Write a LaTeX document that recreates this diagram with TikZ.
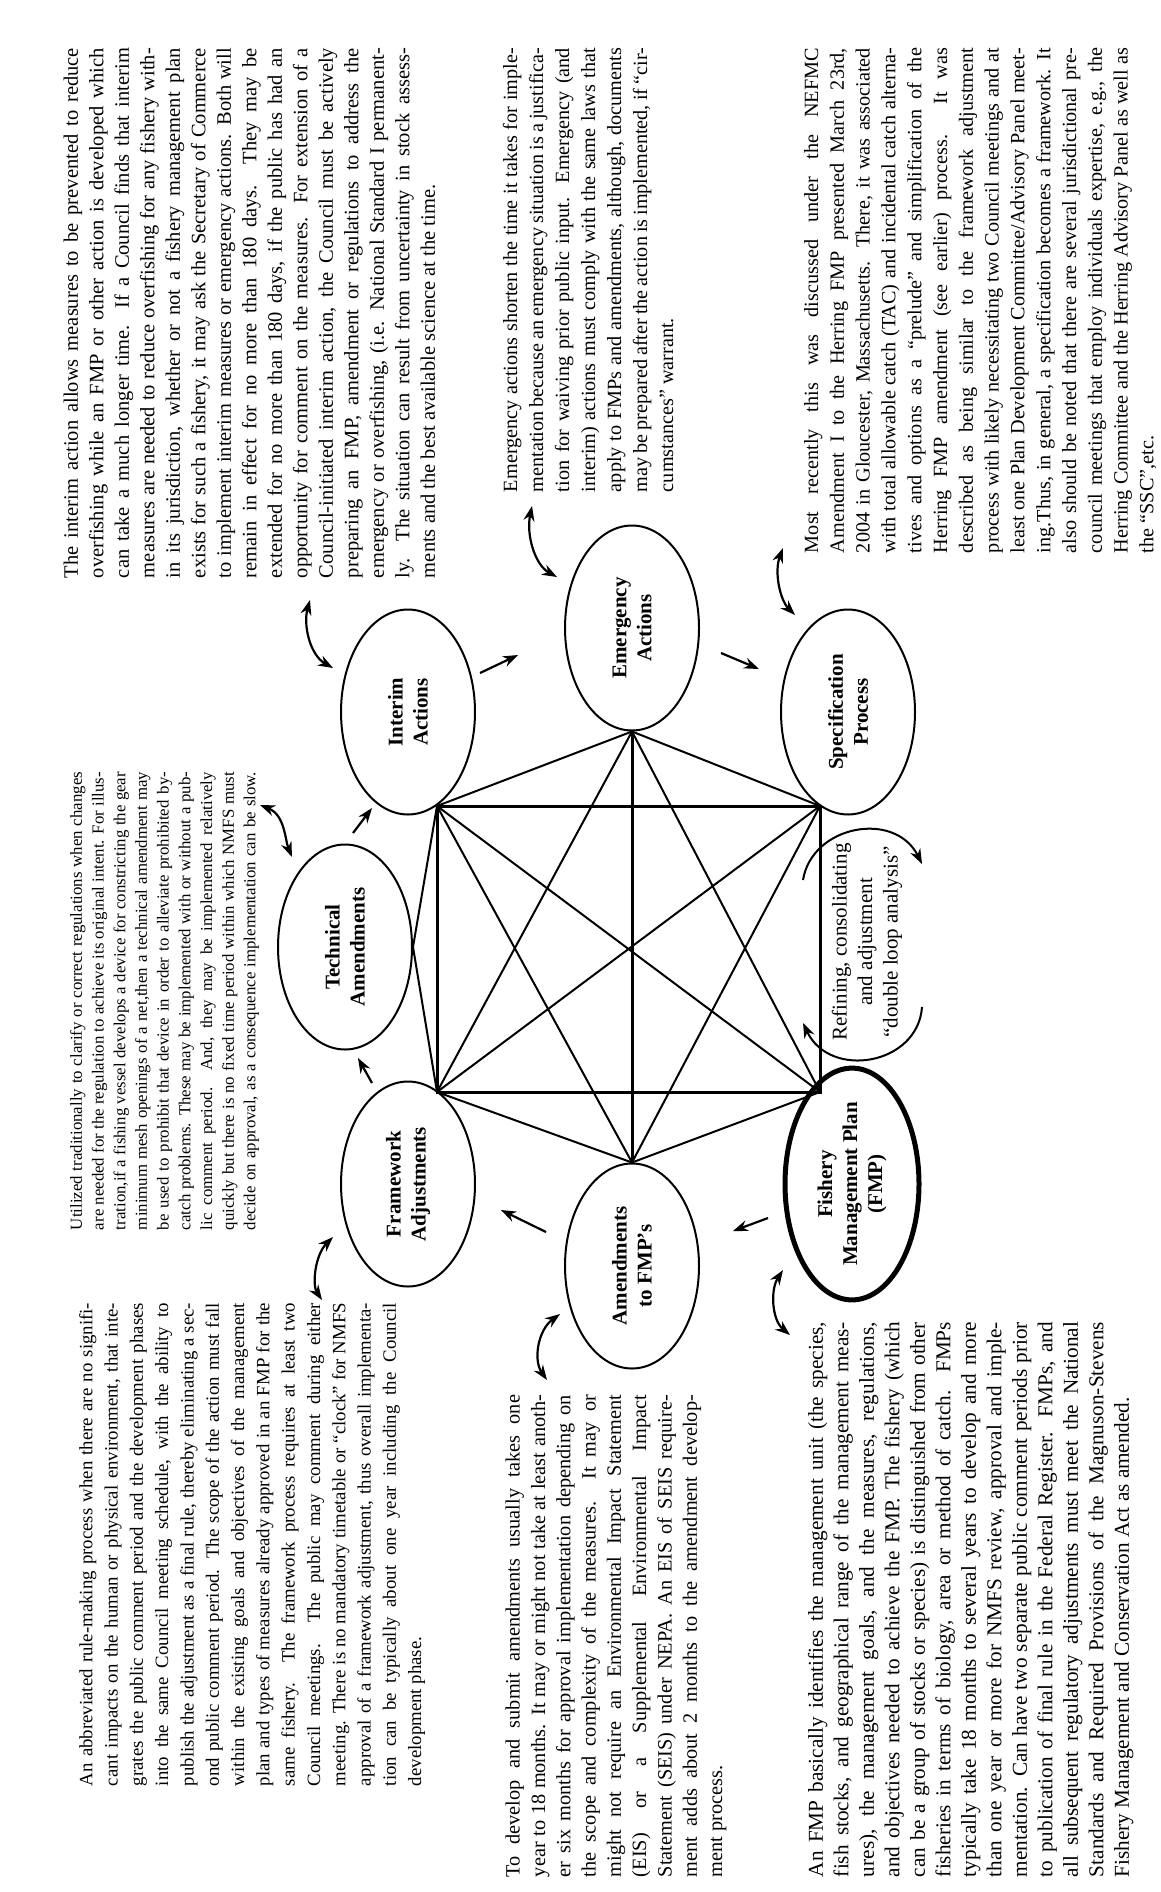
\documentclass[tikz,border=0pt]{standalone}
\usepackage{fontspec}
\setmainfont{Liberation Serif}
\usetikzlibrary{arrows.meta,shapes.geometric}
\newcommand\jl[1]{\hbox to\hsize{\strut #1}}
\newcommand\lastl[1]{\hbox to\hsize{\strut #1\hfil}}
\newcommand\parabox[2]{\vbox{\hsize=#1\relax #2}}
\begin{document}
\begin{tikzpicture}[x=1pt,y=1pt,
  ell/.style={ellipse, draw, line width=2pt, minimum width=205pt, minimum height=134pt, inner sep=0pt, align=center, rotate=90, font=\fontsize{21}{25}\selectfont\bfseries},
  txt/.style={rotate=90, inner sep=0pt, outer sep=0pt, anchor=north west},
  conn/.style={line width=2pt},
  edgethick/.style={line width=3pt},
  arr/.style={line width=2.2pt, -{Stealth[length=15pt,width=11pt]}},
  dbl/.style={line width=2.2pt, {Stealth[length=15pt,width=11pt]}-{Stealth[length=15pt,width=11pt]}},
]
\fill[white] (0,0) rectangle (1160,-1892);
\useasboundingbox (0,0) rectangle (1160,-1892);

% ellipses
\node[ell] (fw) at (408,-1184) {Framework\\Adjustments};
\node[ell] (te) at (345,-947) {Technical\\Amendments};
\node[ell] (ia) at (408,-712) {Interim\\Actions};
\node[ell] (ea) at (632,-628) {Emergency\\Actions};
\node[ell] (sp) at (848,-712) {Specification\\Process};
\node[ell, line width=5pt] (fmp) at (852,-1184) {Fishery\\Management Plan\\(FMP)};
\node[ell] (am) at (632,-1266) {Amendments\\to FMP’s};

% square and star
\coordinate (TL) at (437,-806);
\coordinate (TR) at (820,-806);
\coordinate (BL) at (437,-1092);
\coordinate (BR) at (820,-1092);
\draw[edgethick] (TL) -- (TR) -- (BR) -- (BL) -- cycle;
\draw[conn] (TL) -- (BR);
\draw[conn] (TR) -- (BL);
\draw[conn] (ea.west) -- (TL);
\draw[conn] (ea.west) -- (TR);
\draw[conn] (ea.west) -- (BL);
\draw[conn] (ea.west) -- (BR);
\draw[conn] (am.east) -- (TL);
\draw[conn] (am.east) -- (TR);
\draw[conn] (am.east) -- (BL);
\draw[conn] (am.east) -- (BR);
\draw[edgethick] (ea.west) -- (am.east);
\draw[conn] (te.south) -- (TL);
\draw[conn] (te.south) -- (BL);

% straight arrows between ellipses
\coordinate (a1s) at (372,-1083); \coordinate (a1e) at (358,-1058);
\coordinate (a2s) at (353,-833);  \coordinate (a2e) at (372,-808);
\coordinate (a3s) at (480,-673);  \coordinate (a3e) at (518,-655);
\coordinate (a4s) at (721,-653);  \coordinate (a4e) at (759,-669);
\coordinate (a5s) at (768,-1218); \coordinate (a5e) at (733,-1231);
\coordinate (a6s) at (546,-1232); \coordinate (a6e) at (501,-1210);
\draw[arr] (a1s) -- (a1e);
\draw[arr] (a2s) -- (a2e);
\draw[arr] (a3s) -- (a3e);
\draw[arr] (a4s) -- (a4e);
\draw[arr] (a5s) -- (a5e);
\draw[arr] (a6s) -- (a6e);

% double arrows to texts
\coordinate (d1a) at (333,-1237); \coordinate (d1b) at (322,-1300);
\draw[dbl] (d1a) .. controls (315,-1255) and (312,-1285) .. (d1b);
\coordinate (d2a) at (260,-805); \coordinate (d2b) at (292,-857);
\draw[dbl] (d2a) .. controls (285,-815) and (285,-840) .. (d2b);
\coordinate (d3a) at (310,-600); \coordinate (d3b) at (333,-668);
\draw[dbl] (d3a) .. controls (303,-625) and (310,-655) .. (d3b);
\coordinate (d4a) at (532,-506); \coordinate (d4b) at (557,-577);
\draw[dbl] (d4a) .. controls (526,-535) and (535,-565) .. (d4b);
\coordinate (d5a) at (783,-548); \coordinate (d5b) at (795,-615);
\draw[dbl] (d5a) .. controls (774,-572) and (780,-600) .. (d5b);
\coordinate (d6a) at (560,-1314); \coordinate (d6b) at (547,-1380);
\draw[dbl] (d6a) .. controls (538,-1330) and (533,-1360) .. (d6b);
\coordinate (d7a) at (783,-1270); \coordinate (d7b) at (790,-1335);
\draw[dbl] (d7a) .. controls (770,-1290) and (772,-1320) .. (d7b);

% refining loop
\node[rotate=90, align=center, inner sep=0pt, font=\fontsize{21}{25.6}\selectfont] (ref) at (867,-942) {Refining, consolidating\\and adjustment\\“double loop analysis”};
\coordinate (r1s) at (803,-880); \coordinate (r1e) at (922,-864);
\draw[arr, line width=2pt] (r1s) .. controls (812,-825) and (895,-810) .. (r1e);
\coordinate (r2s) at (922,-1007); \coordinate (r2e) at (803,-1023);
\draw[arr, line width=2pt] (r2s) .. controls (918,-1065) and (830,-1080) .. (r2e);

% paragraph 5 (interim)
\node[txt] (p5) at (60,-578) {\parabox{530pt}{\fontsize{20.5}{25.5}\selectfont
\jl{The interim action allows measures to be prevented to reduce}
\jl{overfishing while an FMP or other action is developed which}
\jl{can take a much longer time. If a Council finds that interim}
\jl{measures are needed to reduce overfishing for any fishery with-}
\jl{in its jurisdiction, whether or not a fishery management plan}
\jl{exists for such a fishery, it may ask the Secretary of Commerce}
\jl{to implement interim measures or emergency actions. Both will}
\jl{remain in effect for no more than 180 days. They may be}
\jl{extended for no more than 180 days, if the public has had an}
\jl{opportunity for comment on the measures. For extension of a}
\jl{Council-initiated interim action, the Council must be actively}
\jl{preparing an FMP, amendment or regulations to address the}
\jl{emergency or overfishing, (i.e. National Standard I permanent-}
\jl{ly. The situation can result from uncertainty in stock assess-}
\lastl{ments and the best available science at the time.}}};

% paragraph 4 (technical)
\node[txt] (p4) at (66.7,-1230) {\parabox{458pt}{\fontsize{16.8}{21.7}\selectfont
\jl{Utilized traditionally to clarify or correct regulations when changes}
\jl{are needed for the regulation to achieve its original intent. For illus-}
\jl{tration,if a fishing vessel develops a device for constricting the gear}
\jl{minimum mesh openings of a net,then a technical amendment may}
\jl{be used to prohibit that device in order to alleviate prohibited by-}
\jl{catch problems. These may be implemented with or without a pub-}
\jl{lic comment period. And, they may be implemented relatively}
\jl{quickly but there is no fixed time period within which NMFS must}
\jl{decide on approval, as a consequence implementation can be slow.}}};

% paragraph 1 (framework)
\node[txt] (p1) at (74.6,-1786) {\parabox{483pt}{\fontsize{18.8}{25.3}\selectfont
\jl{An abbreviated rule-making process when there are no signifi-}
\jl{cant impacts on the human or physical environment, that inte-}
\jl{grates the public comment period and the development phases}
\jl{into the same Council meeting schedule, with the ability to}
\jl{publish the adjustment as a final rule, thereby eliminating a sec-}
\jl{ond public comment period. The scope of the action must fall}
\jl{within the existing goals and objectives of the management}
\jl{plan and types of measures already approved in an FMP for the}
\jl{same fishery. The framework process requires at least two}
\jl{Council meetings. The public may comment during either}
\jl{meeting. There is no mandatory timetable or “clock” for NMFS}
\jl{approval of a framework adjustment, thus overall implementa-}
\jl{tion can be typically about one year including the Council}
\lastl{development phase.}}};

% paragraph 2 (amendments)
\node[txt] (p2) at (502,-1877) {\parabox{482pt}{\fontsize{20.3}{25.3}\selectfont
\jl{To develop and submit amendments usually takes one}
\jl{year to 18 months. It may or might not take at least anoth-}
\jl{er six months for approval implementation depending on}
\jl{the scope and complexity of the measures. It may or}
\jl{might not require an Environmental Impact Statement}
\jl{(EIS) or a Supplemental Environmental Impact}
\jl{Statement (SEIS) under NEPA. An EIS of SEIS require-}
\jl{ment adds about 2 months to the amendment develop-}
\lastl{ment process.}}};

% paragraph 3 (FMP)
\node[txt] (p3) at (805,-1877) {\parabox{555pt}{\fontsize{21.2}{25.5}\selectfont
\jl{An FMP basically identifies the management unit (the species,}
\jl{fish stocks, and geographical range of the management meas-}
\jl{ures), the management goals, and the measures, regulations,}
\jl{and objectives needed to achieve the FMP. The fishery (which}
\jl{can be a group of stocks or species) is distinguished from other}
\jl{fisheries in terms of biology, area or method of catch. FMPs}
\jl{typically take 18 months to several years to develop and more}
\jl{than one year or more for NMFS review, approval and imple-}
\jl{mentation. Can have two separate public comment periods prior}
\jl{to publication of final rule in the Federal Register. FMPs, and}
\jl{all subsequent regulatory adjustments must meet the National}
\jl{Standards and Required Provisions of the Magnuson-Stevens}
\lastl{Fishery Management and Conservation Act as amended.}}};

% paragraph 6 (emergency)
\node[txt] (p6) at (499,-492) {\parabox{444pt}{\fontsize{20.2}{26}\selectfont
\jl{Emergency actions shorten the time it takes for imple-}
\jl{mentation because an emergency situation is a justifica-}
\jl{tion for waiving prior public input. Emergency (and}
\jl{interim) actions must comply with the same laws that}
\jl{apply to FMPs and amendments, although, documents}
\jl{may be prepared after the action is implemented, if “cir-}
\lastl{cumstances” warrant.}}};

% paragraph 7 (specification)
\node[txt] (p7) at (800,-553) {\parabox{505pt}{\fontsize{20.2}{25.8}\selectfont
\jl{Most recently this was discussed under the NEFMC}
\jl{Amendment I to the Herring FMP presented March 23rd,}
\jl{2004 in Gloucester, Massachusetts. There, it was associated}
\jl{with total allowable catch (TAC) and incidental catch alterna-}
\jl{tives and options as a “prelude” and simplification of the}
\jl{Herring FMP amendment (see earlier) process. It was}
\jl{described as being similar to the framework adjustment}
\jl{process with likely necessitating two Council meetings and at}
\jl{least one Plan Development Committee/Advisory Panel meet-}
\jl{ing.Thus, in general, a specification becomes a framework. It}
\jl{also should be noted that there are several jurisdictional pre-}
\jl{council meetings that employ individuals expertise, e.g., the}
\jl{Herring Committee and the Herring Advisory Panel as well as}
\lastl{the “SSC”,etc.}}};
\end{tikzpicture}
\end{document}
